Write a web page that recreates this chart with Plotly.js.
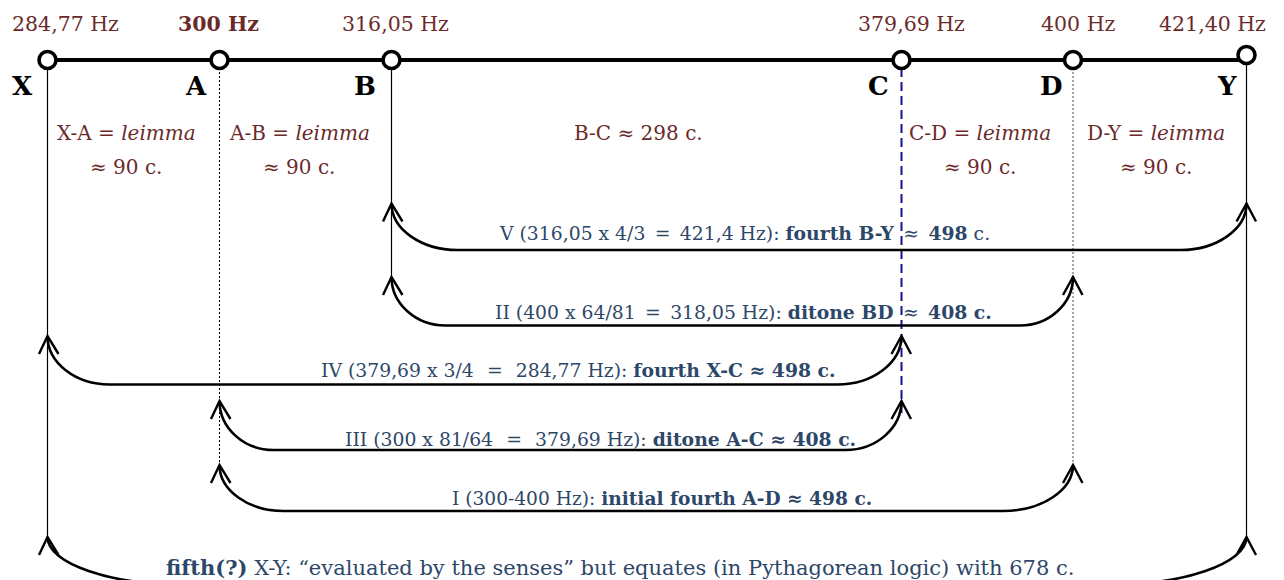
<!DOCTYPE html>
<html>
<head>
<meta charset="utf-8">
<script src="https://cdn.plot.ly/plotly-3.0.1.min.js"></script>
<style>html,body{margin:0;padding:0;background:#fff;}#chart{width:1284px;height:580px;}</style>
</head>
<body>
<div id="chart"></div>
<script>
// ---- data ----
const notes = ['X', 'A', 'B', 'C', 'D', 'Y'];
const freqLabels = ['284,77 Hz', '<b>300 Hz</b>', '316,05 Hz', '379,69 Hz', '400 Hz', '421,40 Hz'];
const intervalTop = ['X-A = <i>leimma</i>', 'A-B = <i>leimma</i>', 'B-C ≈ 298 c.', 'C-D = <i>leimma</i>', 'D-Y = <i>leimma</i>'];
const intervalBottom = ['≈ 90 c.', '≈ 90 c.', '', '≈ 90 c.', '≈ 90 c.'];
const arrowFrom = ['B', 'B', 'X', 'A', 'A', 'X'];
const arrowTo = ['Y', 'D', 'C', 'C', 'D', 'Y'];
const EQ = '\u2002\u2009=\u2009\u2002';
const EQ2 = '\u2002=\u2002';
const APX = '\u2002≈\u2002';
const arrowLabels = [
  'V (316,05 x 4/3' + EQ2 + '421,4 Hz): <b>fourth B-Y</b>' + APX + '<b>498</b> c.',
  'II (400 x 64/81' + EQ2 + '318,05 Hz): <b>ditone BD</b>' + APX + '<b>408 c.</b>',
  'IV (379,69 x 3/4' + EQ + '284,77 Hz): <b>fourth X-C ≈ 498 c.</b>',
  'III (300 x 81/64' + EQ + '379,69 Hz): <b>ditone A-C ≈ 408 c.</b>',
  'I (300-400 Hz): <b>initial fourth A-D ≈ 498 c.</b>',
  '<b>fifth(?)</b> X-Y: “evaluated by the senses” but equates (in Pythagorean logic) with 678 c.'
];

// ---- diagram geometry (schematic positions, px-like units) ----
const noteX = [47.5, 219.5, 391.5, 901.5, 1073, 1246.5];
const lineY = 60;
const markerY = [60, 60, 60, 60, 60, 55];
const freqLabelX = [65.5, 218, 395, 911, 1078, 1212.5];
const letterX = [22, 195.5, 365, 878.5, 1051, 1226.5];
const intervalX = [126, 299, 638.5, 980, 1156];
const arrowTipY = [203.5, 277, 336, 401, 465, 537];
const arrowBaseY = [250, 325.5, 384.5, 450, 511, 585];
const arrowWL = [66, 54, 62, 54, 64, 140];
const arrowWR = [66, 53, 64, 56, 70, 140];
const arrowLabelX = [744, 743.5, 578.5, 600, 662, 620];
const arrowLabelY = [233, 312, 370, 439, 498, 567];
const arrowLabelSize = [18.8, 18.8, 18.8, 18.8, 18.6, 21];
const vlineEnd = [537, 465, 277, 415, 465, 537];
const vlineStyle = [
  {color: '#000', width: 1.2, dash: 'solid'},
  {color: '#000', width: 1, dash: '2px,2px'},
  {color: '#000', width: 1.2, dash: 'solid'},
  {color: '#15158f', width: 2, dash: '9px,5px'},
  {color: '#888', width: 1.5, dash: '2px,2px'},
  {color: '#000', width: 1.2, dash: 'solid'}
];

const MAROON = '#6b2a2a';
const NAVY = '#2d4769';
const FONT = 'DejaVu Serif, Liberation Serif, serif';

const idx = n => notes.indexOf(n);
const shapes = [];
const annotations = [];

// vertical guide lines
notes.forEach((n, i) => {
  shapes.push({type: 'line', xref: 'x', yref: 'y', x0: noteX[i], x1: noteX[i], y0: markerY[i] + 8, y1: vlineEnd[i],
    line: vlineStyle[i], layer: 'below'});
});

// brackets with arrowheads
arrowFrom.forEach((f, k) => {
  const x0 = noteX[idx(f)], x1 = noteX[idx(arrowTo[k])];
  const yt = arrowTipY[k], yb = arrowBaseY[k], h = yb - yt;
  const wl = arrowWL[k], wr = arrowWR[k];
  const p = `M ${x0},${yt} C ${x0},${yt + 0.55 * h} ${x0 + 0.45 * wl},${yb} ${x0 + wl},${yb} ` +
            `L ${x1 - wr},${yb} C ${x1 - 0.45 * wr},${yb} ${x1},${yt + 0.55 * h} ${x1},${yt}`;
  shapes.push({type: 'path', xref: 'x', yref: 'y', path: p, line: {color: '#000', width: 2.6}});
  [[x0, -8.5, 11], [x1, -10, 9.5]].forEach(([x, dl, dr]) => {
    shapes.push({type: 'path', xref: 'x', yref: 'y',
      path: `M ${x + dl},${yt + 18} L ${x},${yt} L ${x + dr},${yt + 18}`,
      line: {color: '#000', width: 2.4}});
  });
  annotations.push({x: arrowLabelX[k], y: arrowLabelY[k], xref: 'x', yref: 'y', text: arrowLabels[k],
    showarrow: false, xanchor: 'center', yanchor: 'middle',
    font: {family: FONT, size: arrowLabelSize[k], color: NAVY}});
});

// frequency labels and letters
notes.forEach((n, i) => {
  annotations.push({x: freqLabelX[i], y: 24, xref: 'x', yref: 'y', text: freqLabels[i], showarrow: false,
    xanchor: 'center', yanchor: 'middle', font: {family: FONT, size: 20.5, color: MAROON}});
  annotations.push({x: letterX[i], y: 86, xref: 'x', yref: 'y', text: '<b>' + n + '</b>', showarrow: false,
    xanchor: 'center', yanchor: 'middle', font: {family: FONT, size: 26, color: '#000'}});
});

// interval labels
intervalTop.forEach((t, i) => {
  annotations.push({x: intervalX[i], y: 133, xref: 'x', yref: 'y', text: t, showarrow: false,
    xanchor: 'center', yanchor: 'middle', font: {family: FONT, size: 20, color: MAROON}});
  if (intervalBottom[i]) annotations.push({x: intervalX[i], y: 167, xref: 'x', yref: 'y', text: intervalBottom[i],
    showarrow: false, xanchor: 'center', yanchor: 'middle', font: {family: FONT, size: 20, color: MAROON}});
});

const traces = [
  {x: [noteX[0], noteX[noteX.length - 1]], y: [lineY, lineY], mode: 'lines', line: {color: '#000', width: 4},
   hoverinfo: 'skip'},
  {x: noteX, y: markerY, mode: 'markers', text: notes, hoverinfo: 'text',
   marker: {symbol: 'circle', size: 17, color: '#fff', line: {color: '#000', width: 3.6}}}
];

const layout = {
  width: 1284, height: 580,
  margin: {l: 0, r: 0, t: 0, b: 0},
  paper_bgcolor: '#fff', plot_bgcolor: '#fff',
  showlegend: false,
  xaxis: {range: [0, 1284], visible: false, fixedrange: true},
  yaxis: {range: [580, 0], visible: false, fixedrange: true},
  shapes: shapes,
  annotations: annotations
};

Plotly.newPlot('chart', traces, layout, {displayModeBar: false, staticPlot: true});
</script>
</body>
</html>
